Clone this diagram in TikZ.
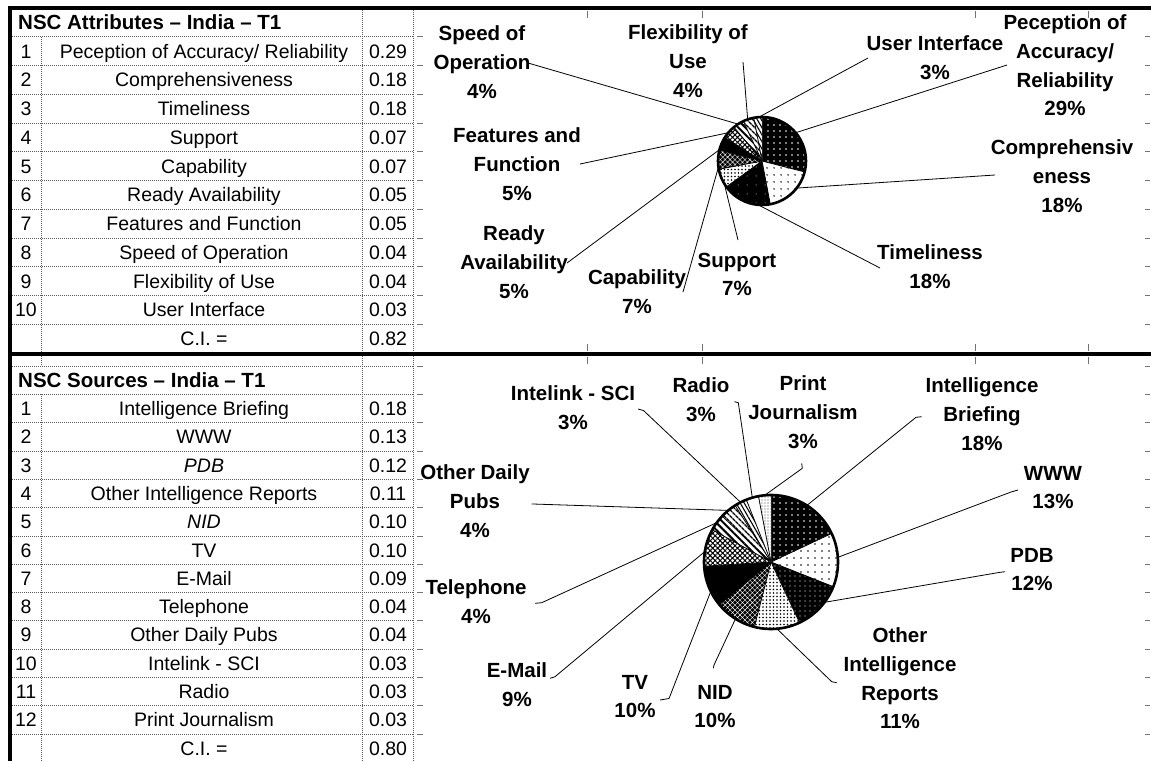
\documentclass[tikz,border=0pt]{standalone}
\usepackage{fontspec}
\setmainfont{Liberation Sans}
\usetikzlibrary{patterns.meta}

% one table row: name prefix, row middle, number, text, value
\newcommand\tabrow[5]{%
  \node[cell] (#1n) at (26,#2+7) {#3};
  \node[cell] (#1t) at (204,#2+7) {#4};
  \node[cell] (#1v) at (388,#2+7) {#5};
}

\begin{document}
\begin{tikzpicture}[x=1pt,y=-1pt,
  gridline/.style={black!65, line width=0.6pt, dash pattern=on 1pt off 1pt},
  frame/.style={black, line width=3.6pt},
  tickmark/.style={black!55, line width=0.6pt},
  cell/.style={font=\fontsize{19.5}{22}\selectfont, inner sep=0pt, anchor=base},
  hdr/.style={font=\fontsize{20.5}{22}\selectfont\bfseries, inner sep=0pt, anchor=base west},
  lbl/.style={font=\fontsize{20.5}{28.7}\selectfont\bfseries, align=center, inner sep=0pt, anchor=north},
  leader/.style={black, line width=0.8pt},
  rim/.style={black, line width=2.6pt},
  edge/.style={black, line width=0.8pt},
  % slice fills
  pDarkDots/.style={preaction={fill=black}, pattern={Dots[distance=6pt,radius=0.8pt]}, pattern color=white},
  pLightDots/.style={preaction={fill=white}, pattern={Dots[distance=6.5pt,radius=0.9pt]}, pattern color=black},
  pDarkSparse/.style={preaction={fill=black}, pattern={Dots[distance=9pt,radius=0.5pt]}, pattern color=white},
  pDarkMed/.style={preaction={fill=black}, pattern={Dots[distance=5pt,radius=0.7pt]}, pattern color=white},
  pFine/.style={preaction={fill=white}, pattern={Dots[distance=3.5pt,radius=0.8pt]}, pattern color=black},
  pDarkFine/.style={preaction={fill=black}, pattern={Hatch[distance=3.5pt,angle=45,line width=0.4pt]}, pattern color=white},
  pSolid/.style={fill=black},
  pCross/.style={preaction={fill=white}, pattern={Hatch[distance=3.5pt,angle=45,line width=1pt]}, pattern color=black},
  pStripeA/.style={preaction={fill=white}, pattern={Lines[distance=5pt,angle=-45,line width=2pt]}, pattern color=black},
  pStripeB/.style={preaction={fill=white}, pattern={Lines[distance=4pt,angle=-45,line width=1.5pt]}, pattern color=black},
  pStripeC/.style={preaction={fill=white}, pattern={Lines[distance=3.5pt,angle=-60,line width=1.1pt]}, pattern color=black},
  pWhite/.style={fill=white},
  pSpeck/.style={preaction={fill=white}, pattern={Dots[distance=3pt,radius=0.6pt]}, pattern color=black!70},
]
\useasboundingbox (0,0) rectangle (1151,761);
\fill[white] (0,0) rectangle (1151,761);

% ---------- spreadsheet grid ----------
% top table
\foreach \k in {1,...,11} \draw[gridline] (10,8+28.75*\k) -- (413,8+28.75*\k);
\draw[gridline] (41,36.75) -- (41,353);
\draw[gridline] (362,8) -- (362,353);
\draw[gridline] (413,8) -- (413,353);
% bottom table
\foreach \k in {0,...,13} \draw[gridline] (10,366+28.3*\k) -- (413,366+28.3*\k);
\draw[gridline] (41,354) -- (41,366);
\draw[gridline] (41,394.3) -- (41,761);
\draw[gridline] (362,354) -- (362,761);
\draw[gridline] (413,354) -- (413,761);
% cut-off gridline ends beside and around the charts
\foreach \k in {1,...,11} {
  \draw[tickmark] (417,8+28.75*\k) -- (423,8+28.75*\k);
  \draw[tickmark] (1145,8+28.75*\k) -- (1150,8+28.75*\k);
}
\foreach \k in {0,...,13} {
  \draw[tickmark] (417,366+28.3*\k) -- (423,366+28.3*\k);
  \draw[tickmark] (1145,366+28.3*\k) -- (1150,366+28.3*\k);
}
\foreach \x in {587,702,975,1088} {
  \draw[tickmark] (\x,11) -- (\x,18);
  \draw[tickmark] (\x,344) -- (\x,351);
  \draw[tickmark] (\x,357) -- (\x,364);
}

% heavy frame lines
\draw[frame] (10,8) -- (1151,8);
\draw[frame] (10,354) -- (1151,354);
\draw[frame] (10,6.2) -- (10,761);

% ---------- attributes table ----------
\node[hdr] (hA) at (18,22.4+7) {NSC Attributes -- India -- T1};
\tabrow{a1}{51.1}{1}{Peception of Accuracy/ Reliability}{0.29}
\tabrow{a2}{79.9}{2}{Comprehensiveness}{0.18}
\tabrow{a3}{108.6}{3}{Timeliness}{0.18}
\tabrow{a4}{137.4}{4}{Support}{0.07}
\tabrow{a5}{166.1}{5}{Capability}{0.07}
\tabrow{a6}{194.9}{6}{Ready Availability}{0.05}
\tabrow{a7}{223.6}{7}{Features and Function}{0.05}
\tabrow{a8}{252.4}{8}{Speed of Operation}{0.04}
\tabrow{a9}{281.1}{9}{Flexibility of Use}{0.04}
\tabrow{a10}{309.9}{10}{User Interface}{0.03}
\tabrow{a11}{338.6}{}{C.I. =}{0.82}

% ---------- sources table ----------
\node[hdr] (hS) at (18,380.2+7) {NSC Sources -- India -- T1};
\tabrow{s1}{408.5}{1}{Intelligence Briefing}{0.18}
\tabrow{s2}{436.8}{2}{WWW}{0.13}
\tabrow{s3}{465.1}{3}{\textit{PDB}}{0.12}
\tabrow{s4}{493.4}{4}{Other Intelligence Reports}{0.11}
\tabrow{s5}{521.7}{5}{\textit{NID}}{0.10}
\tabrow{s6}{550.0}{6}{TV}{0.10}
\tabrow{s7}{578.3}{7}{E-Mail}{0.09}
\tabrow{s8}{606.6}{8}{Telephone}{0.04}
\tabrow{s9}{634.9}{9}{Other Daily Pubs}{0.04}
\tabrow{s10}{663.2}{10}{Intelink - SCI}{0.03}
\tabrow{s11}{691.5}{11}{Radio}{0.03}
\tabrow{s12}{719.8}{12}{Print Journalism}{0.03}
\tabrow{s13}{748.1}{}{C.I. =}{0.80}

% ---------- attributes pie (clockwise from 12 o'clock) ----------
\coordinate (PA) at (762,161);
\foreach \a/\b/\s in {0/104.4/pDarkDots, 104.4/169.2/pLightDots, 169.2/234/pDarkSparse,
    234/259.2/pFine, 259.2/284.4/pDarkFine, 284.4/302.4/pSolid, 302.4/320.4/pCross,
    320.4/334.8/pStripeA, 334.8/349.2/pStripeB, 349.2/360/pStripeC} {
  \path[style=\s] (PA) -- ++(\a-90:44) arc[start angle=\a-90, end angle=\b-90, radius=44] -- cycle;
  \draw[edge] (PA) -- ++(\a-90:44);
}
\draw[rim] (PA) circle[radius=44];

% ---------- sources pie ----------
\coordinate (PB) at (771,562);
\foreach \a/\b/\s in {0/64.8/pDarkDots, 64.8/111.6/pLightDots, 111.6/154.8/pDarkMed,
    154.8/194.4/pFine, 194.4/230.4/pDarkFine, 230.4/266.4/pSolid, 266.4/298.8/pCross,
    298.8/313.2/pStripeA, 313.2/327.6/pStripeB, 327.6/338.4/pStripeC, 338.4/349.2/pWhite,
    349.2/360/pSpeck} {
  \path[style=\s] (PB) -- ++(\a-90:67) arc[start angle=\a-90, end angle=\b-90, radius=67] -- cycle;
  \draw[edge] (PB) -- ++(\a-90:67);
}
\draw[rim] (PB) circle[radius=67];

% ---------- attributes pie labels ----------
\node[lbl] (lSpeed) at (482,33-7.3)   {Speed of\\Operation\\4\%};
\node[lbl] (lFlex)  at (688,32-7.3)   {Flexibility of\\Use\\4\%};
\node[lbl] (lFeat)  at (517,135-7.3)  {Features and\\Function\\5\%};
\node[lbl] (lReady) at (514,233-7.3)  {Ready\\Availability\\5\%};
\node[lbl] (lCap)   at (637,277-7.3)  {Capability\\7\%};
\node[lbl] (lSupp)  at (737,260-7.3)  {Support\\7\%};
\node[lbl] (lTime)  at (930,252-7.3)  {Timeliness\\18\%};
\node[lbl] (lComp)  at (1062,147-7.3) {Comprehensiv\\eness\\18\%};
\node[lbl] (lPec)   at (1065,22-7.3)  {Peception of\\Accuracy/\\Reliability\\29\%};
\node[lbl] (lUser)  at (935,43-7.3)   {User Interface\\3\%};

% leader ends at the labels
\coordinate (eSpeed) at (528,63);
\coordinate (eFlex)  at (743,62);
\coordinate (eFeat)  at (580,164);
\coordinate (eReady) at (567,263);
\coordinate (eCap)   at (683,292);
\coordinate (eSupp)  at (738,240);
\coordinate (eTime)  at (880,268);
\coordinate (eComp)  at (995,175);
\coordinate (ePec)   at (1007,65);
\coordinate (eUser)  at (868,58);
% leader ends on the rim
\path (PA) ++(327-90:44) coordinate (rSpeed);
\path (PA) ++(341-90:44) coordinate (rFlex);
\path (PA) ++(310-90:44) coordinate (rFeat);
\path (PA) ++(285-90:44) coordinate (rReady);
\path (PA) ++(262-90:44) coordinate (rCap);
\path (PA) ++(239-90:44) coordinate (rSupp);
\path (PA) ++(185-90:44) coordinate (rTime);
\path (PA) ++(128-90:44) coordinate (rComp);
\path (PA) ++(50-90:44)  coordinate (rPec);
\path (PA) ++(356-90:44) coordinate (rUser);
\foreach \n in {Speed,Flex,Feat,Ready,Cap,Supp,Time,Comp,Pec,User}
  \draw[leader] (e\n) -- (r\n);

% ---------- sources pie labels ----------
\node[lbl] (lInt)   at (573,393-7.3) {Intelink - SCI\\3\%};
\node[lbl] (lRad)   at (701,385-7.3) {Radio\\3\%};
\node[lbl] (lPrint) at (803,383-7.3) {Print\\Journalism\\3\%};
\node[lbl] (lIB)    at (982,385-7.3) {Intelligence\\Briefing\\18\%};
\node[lbl] (lWWW)   at (1053,473-7.3) {WWW\\13\%};
\node[lbl] (lPDB)   at (1032,555-7.3) {PDB\\12\%};
\node[lbl] (lOIR)   at (900,635-7.3) {Other\\Intelligence\\Reports\\11\%};
\node[lbl] (lNID)   at (715,692-7.3) {NID\\10\%};
\node[lbl] (lTV)    at (635,682-7.3) {TV\\10\%};
\node[lbl] (lMail)  at (517,670-7.3) {E-Mail\\9\%};
\node[lbl] (lTel)   at (476,587-7.3) {Telephone\\4\%};
\node[lbl] (lODP)   at (475,472-7.3) {Other Daily\\Pubs\\4\%};

% leader ends at the labels, with their short hooks
\coordinate (fInt)   at (638,409);   \coordinate (gInt)   at (643.5,410.5);
\coordinate (fRad)   at (734.5,401.7); \coordinate (gRad) at (738.3,402.7);
\coordinate (fPrint) at (801.7,463.3); \coordinate (gPrint) at (802.3,468.3);
\coordinate (fIB)    at (921.7,416.7); \coordinate (gIB)  at (916,417.3);
\coordinate (fWWW)   at (1018,490);  \coordinate (gWWW)   at (1011,492);
\coordinate (fPDB)   at (1005,571.7); \coordinate (gPDB)  at (1000,572.3);
\coordinate (fOIR)   at (836.7,682.7); \coordinate (gOIR) at (831.7,681.7);
\coordinate (fNID)   at (713.3,668.3); \coordinate (gNID) at (714,665);
\coordinate (fTV)    at (660,700);   \coordinate (gTV)    at (669,698.5);
\coordinate (fMail)  at (550,678.3); \coordinate (gMail)  at (555,676.7);
\coordinate (fTel)   at (535,603.3); \coordinate (gTel)   at (541.7,602.7);
\coordinate (fODP)   at (531.7,504); \coordinate (gODP)   at (533,504);
% leader ends on the rim
\path (PB) ++(333-90:67)   coordinate (rInt);
\path (PB) ++(343.8-90:67) coordinate (rRad);
\path (PB) ++(354.6-90:67) coordinate (rPrint);
\path (PB) ++(32.4-90:67)  coordinate (rIB);
\path (PB) ++(86-90:67)    coordinate (rWWW);
\path (PB) ++(127-90:67)   coordinate (rPDB);
\path (PB) ++(175-90:67)   coordinate (rOIR);
\path (PB) ++(212-90:67)   coordinate (rNID);
\path (PB) ++(244-90:67)   coordinate (rTV);
\path (PB) ++(279-90:67)   coordinate (rMail);
\path (PB) ++(306-90:67)   coordinate (rTel);
\path (PB) ++(320.4-90:67) coordinate (rODP);
\foreach \n in {Int,Rad,Print,IB,WWW,PDB,OIR,NID,TV,Mail,Tel,ODP}
  \draw[leader] (f\n) -- (g\n) -- (r\n);
\end{tikzpicture}
\end{document}
